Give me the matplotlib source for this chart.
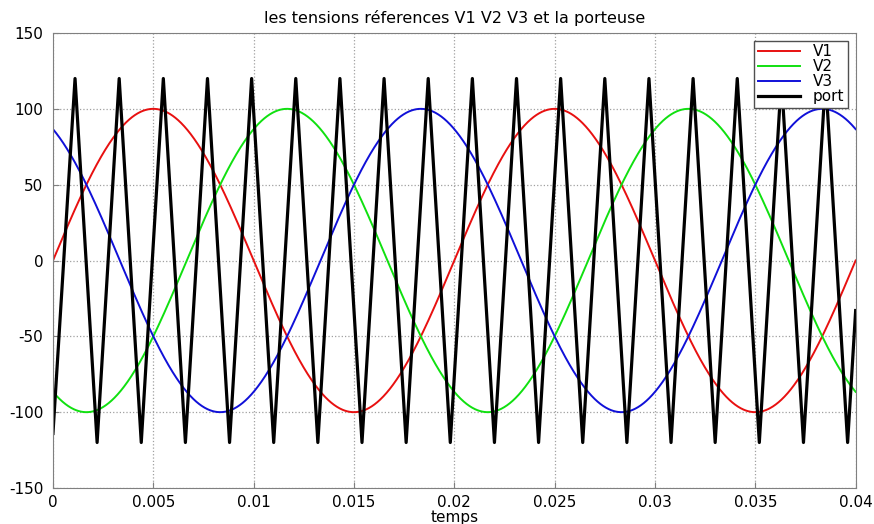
import numpy as np
import matplotlib.pyplot as plt

# reference voltages (three-phase sine)
amplitude = 100
frequency = 50
phases_deg = [0, -120, 120]
labels = ["V1", "V2", "V3"]
colors = ["#e81010", "#10e010", "#1010d8"]

# carrier (triangle) vertices
port_t = [0.0, 0.0011, 0.0022, 0.0033, 0.0044, 0.0055, 0.0066, 0.0077, 0.0088,
          0.0099, 0.0110, 0.0121, 0.0132, 0.0143, 0.0154, 0.0165, 0.0176,
          0.0187, 0.0198, 0.0209, 0.0220, 0.0231, 0.0242, 0.0253, 0.0264,
          0.0275, 0.0286, 0.0297, 0.0308, 0.0319, 0.0330, 0.0341, 0.0352,
          0.0363, 0.0374, 0.0385, 0.0396, 0.0400]
port_v = [-114, 120, -120, 120, -120, 120, -120, 120, -120,
          120, -120, 120, -120, 120, -120, 120, -120,
          120, -120, 120, -120, 120, -120, 120, -120,
          120, -120, 120, -120, 120, -120, 120, -120,
          120, -120, 120, -120, -33]

plt.rcParams['font.family'] = ['DejaVu Sans']
plt.rcParams['axes.unicode_minus'] = False

fig = plt.figure(figsize=(8.74, 5.24), dpi=100)
ax = fig.add_axes([0.0606, 0.0687, 0.9184, 0.8683])

t = np.linspace(0, 0.04, 2000)
for ph, lab, c in zip(phases_deg, labels, colors):
    ax.plot(t, amplitude * np.sin(2 * np.pi * frequency * t + np.radians(ph)),
            color=c, lw=1.4, label=lab)
ax.plot(port_t, port_v, color="black", lw=2.3, label="port")

ax.set_xlim(0, 0.04)
ax.set_ylim(-150, 150)
ax.set_xticks(np.arange(0, 0.0401, 0.005))
ax.set_xticklabels(["0", "0.005", "0.01", "0.015", "0.02", "0.025", "0.03", "0.035", "0.04"])
ax.set_yticks(np.arange(-150, 151, 50))
ax.tick_params(axis="both", direction="in", labelsize=11, length=4, color="#808080")
ax.tick_params(axis="y", pad=7)
ax.tick_params(axis="x", pad=5)
ax.grid(True, linestyle=":", color="#a0a0a0", lw=0.9)
for s in ax.spines.values():
    s.set_color("#808080")

ax.set_title("les tensions réferences V1 V2 V3 et la porteuse", fontsize=11.5, pad=7)
ax.set_xlabel("temps", fontsize=11, labelpad=0)

leg = ax.legend(loc="upper right", fontsize=11, fancybox=False, framealpha=1,
                edgecolor="#505050", borderaxespad=0.5, handlelength=2.8,
                handletextpad=0.8, labelspacing=0.0, borderpad=0.25)
leg.get_frame().set_linewidth(1.0)

fig.savefig("out.png", dpi=100)
